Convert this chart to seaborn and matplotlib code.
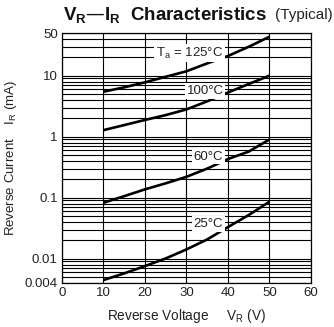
import matplotlib
matplotlib.use("Agg")
import matplotlib.pyplot as plt
import matplotlib.ticker as mticker
import seaborn as sns
import pandas as pd
import numpy as np

voltage = [10, 15, 20, 25, 30, 35, 40, 45, 50]
i_125 = [5.46, 6.44, 7.78, 9.6, 11.8, 15.9, 21.0, 29.8, 43.5]
i_100 = [1.28, 1.55, 1.88, 2.26, 2.8, 3.8, 5.3, 7.3, 10.0]
i_60 = [0.0826, 0.106, 0.137, 0.172, 0.22, 0.30, 0.43, 0.57, 0.90]
i_25 = [0.00447, 0.00575, 0.00757, 0.0101, 0.0142, 0.0207, 0.033, 0.052, 0.086]
temps = ["125", "100", "60", "25"]
label_texts = ["T$_\\mathregular{a}$ = 125°C", "100°C", "60°C", "25°C"]
label_x = [30.8, 34.5, 35.2, 35.2]
label_y = [23.5, 5.6, 0.47, 0.037]
y_ticks = [0.004, 0.01, 0.1, 1, 10, 50]
y_ticklabels = ["0.004", "0.01", "0.1", "1", "10", "50"]
x_ticks = [0, 10, 20, 30, 40, 50, 60]

sns.set_theme(style="white")
plt.rcParams["font.family"] = ["Liberation Sans", "DejaVu Sans"]
plt.rcParams["mathtext.default"] = "regular"

rows = []
for t, vals in zip(temps, [i_125, i_100, i_60, i_25]):
    for v, i in zip(voltage, vals):
        rows.append({"V": v, "I": i, "T": t})
df = pd.DataFrame(rows)

fig = plt.figure(figsize=(3.34, 3.27), dpi=100)
ax = fig.add_axes([0.1856, 0.1346, 0.931 - 0.1856, 0.899 - 0.1346])
ax.set_yscale("log")

sns.lineplot(data=df, x="V", y="I", hue="T", palette=["black"] * 4,
             linewidth=1.9, legend=False, ax=ax, estimator=None, sort=True)
for line in ax.get_lines():
    line.set_solid_joinstyle("round")
    line.set_solid_capstyle("butt")

ax.set_xlim(0, 60)
ax.set_ylim(0.004, 50)
ax.set_xticks(x_ticks)
ax.set_yticks(y_ticks)
ax.set_yticklabels(y_ticklabels)
ax.yaxis.set_minor_locator(mticker.LogLocator(base=10, subs=np.arange(2, 10)))
ax.yaxis.set_minor_formatter(mticker.NullFormatter())
ax.grid(True, which="major", axis="both", color="black", linewidth=0.8)
ax.grid(True, which="minor", axis="y", color="black", linewidth=0.8)
ax.tick_params(axis="both", which="both", length=0, labelsize=9.5, colors="#222222", pad=3)
for s in ax.spines.values():
    s.set_color("black")
    s.set_linewidth(0.9)

for txt, x, y in zip(label_texts, label_x, label_y):
    ax.text(x, y, txt, ha="center", va="center", fontsize=9.5, color="#222222",
            bbox=dict(facecolor="white", edgecolor="none", pad=1.2), zorder=5)

ax.set_xlabel("Reverse Voltage     V$_\\mathregular{R}$ (V)", fontsize=9.8, color="#222222", labelpad=6)
ax.set_ylabel("Reverse Current    I$_\\mathregular{R}$ (mA)", fontsize=9.5, color="#222222", labelpad=4)

fig.text(0.188, 0.953, "V$_\\mathregular{R}$—I$_\\mathregular{R}$  Characteristics", fontsize=13.5,
         fontweight="bold", ha="left", va="center", color="#111111")
fig.text(0.822, 0.953, "(Typical)", fontsize=11, ha="left", va="center", color="#222222")

fig.savefig("out.png", dpi=100)
